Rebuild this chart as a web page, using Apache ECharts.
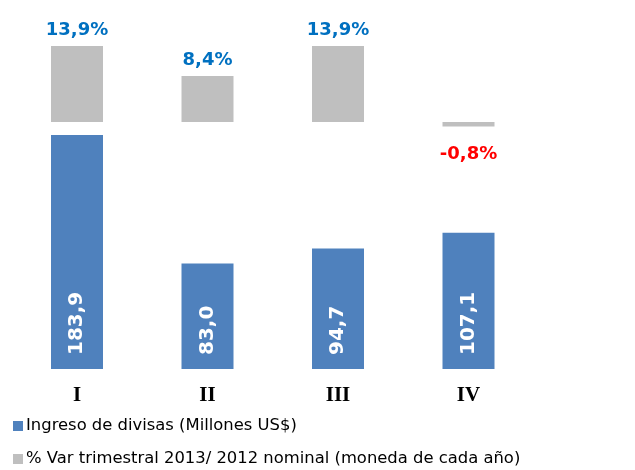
<!DOCTYPE html>
<html><head><meta charset="utf-8">
<script src="https://cdn.jsdelivr.net/npm/echarts@6/dist/echarts.min.js"></script>
<style>html,body{margin:0;padding:0;background:#fff}#c{width:635px;height:470px}</style>
</head><body><div id="c"></div>
<script>
const categories = ['I', 'II', 'III', 'IV'];
const ingresoDivisas = [183.9, 83.0, 94.7, 107.1];
const varTrimestral = [13.9, 8.4, 13.9, -0.8];
const nameIngreso = 'Ingreso de divisas (Millones US$)';
const nameVar = '% Var trimestral 2013/ 2012 nominal (moneda de cada año)';

const fmt = v => v.toFixed(1).replace('.', ',');
const legendBase = {
  orient: 'vertical', left: 8, itemWidth: 10, itemHeight: 10, itemGap: 5,
  icon: 'rect',
  textStyle: {fontFamily: 'DejaVu Sans', fontSize: 16.4, color: '#000', lineHeight: 20, padding: [0, 0, 0, -2]}
};
const chart = echarts.init(document.getElementById('c'));
chart.setOption({
  animation: false,
  grid: [
    {left: 11.75, width: 522, top: 40, height: 109.4},
    {left: 11.75, width: 522, top: 114.6, height: 254.4}
  ],
  xAxis: [
    {gridIndex: 0, type: 'category', data: categories, show: false},
    {gridIndex: 1, type: 'category', data: categories,
     axisLine: {show: false}, axisTick: {show: false},
     axisLabel: {fontFamily: 'Liberation Serif', fontWeight: 'bold', fontSize: 21, color: '#000', margin: 16}}
  ],
  yAxis: [
    {gridIndex: 0, type: 'value', min: -5, max: 15, show: false, splitLine: {show: false}},
    {gridIndex: 1, type: 'value', min: 0, max: 200, show: false, splitLine: {show: false}}
  ],
  legend: [
    Object.assign({}, legendBase, {top: 411, data: [nameIngreso]}),
    Object.assign({}, legendBase, {top: 444, data: [nameVar]})
  ],
  series: [
    {name: nameIngreso, type: 'bar', xAxisIndex: 1, yAxisIndex: 1, barWidth: 52,
     itemStyle: {color: '#4F81BD'},
     data: ingresoDivisas,
     label: {show: true, position: 'insideBottom', rotate: 90, align: 'left', verticalAlign: 'middle',
       distance: 14, color: '#fff', fontFamily: 'DejaVu Sans', fontWeight: 'bold', fontSize: 20,
       formatter: p => fmt(p.value)}},
    {name: nameVar, type: 'bar', xAxisIndex: 0, yAxisIndex: 0, barWidth: 52,
     itemStyle: {color: '#BFBFBF'},
     data: varTrimestral.map(v => v < 0 ? {value: v, label: {position: 'bottom', distance: 19, color: '#FF0000'}} : v),
     label: {show: true, position: 'top', distance: 7, color: '#0070C0', fontFamily: 'DejaVu Sans',
       fontWeight: 'bold', fontSize: 18, formatter: p => fmt(p.value) + '%'}}
  ]
});
</script></body></html>
